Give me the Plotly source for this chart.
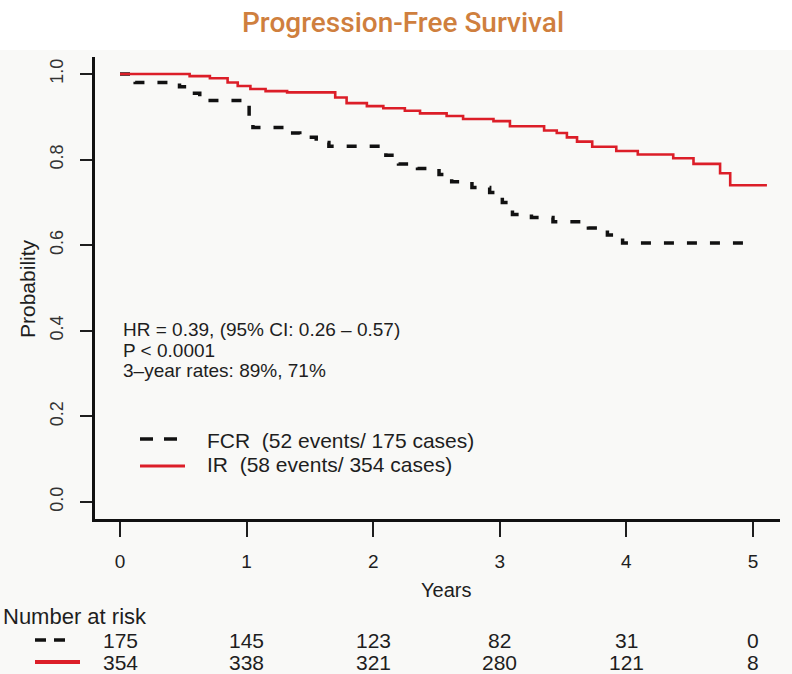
import plotly.graph_objects as go

# Kaplan-Meier step estimates (years, survival probability)
ir_times = [0.0, 0.55, 0.71, 0.85, 0.93, 1.03, 1.15, 1.32, 1.70, 1.79, 1.95, 2.08, 2.25,
            2.37, 2.58, 2.71, 2.95, 3.08, 3.35, 3.45, 3.53, 3.61, 3.73, 3.92, 4.09,
            4.37, 4.53, 4.74, 4.82, 5.11]
ir_surv = [1.000, 0.995, 0.990, 0.980, 0.972, 0.965, 0.960, 0.957, 0.945, 0.932, 0.925,
           0.920, 0.914, 0.908, 0.902, 0.895, 0.890, 0.878, 0.868, 0.862, 0.852, 0.842,
           0.830, 0.820, 0.812, 0.803, 0.790, 0.768, 0.740, 0.740]

fcr_times = [0.0, 0.12, 0.47, 0.55, 0.63, 1.02, 1.05, 1.30, 1.42, 1.55, 1.65, 2.10, 2.20,
             2.35, 2.52, 2.62, 2.78, 2.92, 3.02, 3.10, 3.25, 3.42, 3.70, 3.85, 3.97, 4.95]
fcr_surv = [1.000, 0.980, 0.970, 0.955, 0.938, 0.900, 0.875, 0.862, 0.852, 0.840, 0.831,
            0.810, 0.790, 0.779, 0.765, 0.748, 0.735, 0.723, 0.700, 0.672, 0.665, 0.655,
            0.640, 0.624, 0.605, 0.605]

# Number-at-risk table
risk_times = [0, 1, 2, 3, 4, 5]
fcr_at_risk = [175, 145, 123, 82, 31, 0]
ir_at_risk = [354, 338, 321, 280, 121, 8]

x_ticks = [0, 1, 2, 3, 4, 5]
y_ticks = [0.0, 0.2, 0.4, 0.6, 0.8, 1.0]
y_tick_text = ["0.0", "0.2", "0.4", "0.6", "0.8", "1.0"]

stats_lines = ["HR = 0.39, (95% CI: 0.26 \u2013 0.57)", "P < 0.0001", "3\u2013year rates: 89%, 71%"]
legend_labels = ["FCR  (52 events/ 175 cases)", "IR  (58 events/ 354 cases)"]

RED = "#dc1e28"
INK = "#1e1e1e"
FONT = "Liberation Sans, Arial, sans-serif"

W, H = 792, 674
ML, MR, MT, MB = 95, 12, 57, 155
PW, PH = W - ML - MR, H - MT - MB


def px(xpix):
    return (xpix - ML) / PW


def py(ypix):
    return (H - MB - ypix) / PH


fig = go.Figure()

fig.add_trace(go.Scatter(
    x=fcr_times, y=fcr_surv, mode="lines", line_shape="hv",
    line=dict(color="#111111", width=3.5, dash="10px,13px"), showlegend=False,
    hoverinfo="skip"))
fig.add_trace(go.Scatter(
    x=ir_times, y=ir_surv, mode="lines", line_shape="hv",
    line=dict(color=RED, width=2.6), showlegend=False, hoverinfo="skip"))

shapes = [
    # faint background below the heading
    dict(type="rect", xref="paper", yref="paper", x0=px(0), x1=px(W), y0=py(H), y1=py(50),
         fillcolor="#f9f9f7", line=dict(width=0), layer="below"),
    # in-plot legend keys
    dict(type="line", xref="paper", yref="paper", x0=px(140), x1=px(153), y0=py(439), y1=py(439),
         line=dict(color="#111111", width=3.5)),
    dict(type="line", xref="paper", yref="paper", x0=px(164), x1=px(177), y0=py(439), y1=py(439),
         line=dict(color="#111111", width=3.5)),
    dict(type="line", xref="paper", yref="paper", x0=px(140), x1=px(185), y0=py(466), y1=py(466),
         line=dict(color=RED, width=3)),
    # risk-table keys
    dict(type="line", xref="paper", yref="paper", x0=px(35), x1=px(46), y0=py(640), y1=py(640),
         line=dict(color="#111111", width=3.5)),
    dict(type="line", xref="paper", yref="paper", x0=px(54), x1=px(65), y0=py(640), y1=py(640),
         line=dict(color="#111111", width=3.5)),
    dict(type="line", xref="paper", yref="paper", x0=px(35), x1=px(80), y0=py(662), y1=py(662),
         line=dict(color=RED, width=4)),
]

annotations = []
# heading
annotations.append(dict(text="Progression-Free Survival", xref="paper", yref="paper",
                        x=px(403), y=py(22), xanchor="center", yanchor="middle", showarrow=False,
                        font=dict(family="Roboto, sans-serif", size=28, weight=500,
                                  color="#cf7f3e")))
# axis titles
annotations.append(dict(text="Years", xref="paper", yref="paper", x=px(446), y=py(590),
                        xanchor="center", yanchor="middle", showarrow=False,
                        font=dict(family=FONT, size=20, color=INK)))
annotations.append(dict(text="Probability", xref="paper", yref="paper", x=px(27), y=py(289),
                        xanchor="center", yanchor="middle", showarrow=False, textangle=-90,
                        font=dict(family=FONT, size=21, color=INK)))
# statistics block
for line, ypix in zip(stats_lines, [330, 350, 370]):
    annotations.append(dict(text=line, xref="paper", yref="paper", x=px(121), y=py(ypix),
                            xanchor="left", yanchor="middle", showarrow=False,
                            font=dict(family=FONT, size=19, color=INK)))
# legend labels
for lab, ypix in zip(legend_labels, [440, 464]):
    annotations.append(dict(text=lab, xref="paper", yref="paper", x=px(205), y=py(ypix),
                            xanchor="left", yanchor="middle", showarrow=False,
                            font=dict(family=FONT, size=21, color=INK)))
# number-at-risk table
annotations.append(dict(text="Number at risk", xref="paper", yref="paper", x=px(1), y=py(616),
                        xanchor="left", yanchor="middle", showarrow=False,
                        font=dict(family=FONT, size=22, color=INK)))
for row, ypix in zip([fcr_at_risk, ir_at_risk], [640, 662]):
    for t, n in zip(risk_times, row):
        annotations.append(dict(text=str(n), xref="x", yref="paper", x=t, y=py(ypix),
                                xanchor="center", yanchor="middle", showarrow=False,
                                font=dict(family=FONT, size=21, color=INK)))

x_left = (ML - 120) / 126.6
x_right = (ML + PW - 120) / 126.6
y_bottom = (502 - (H - MB)) / 428.0
y_top = (502 - MT) / 428.0

fig.update_layout(
    width=W, height=H,
    margin=dict(l=ML, r=MR, t=MT, b=MB, pad=0),
    paper_bgcolor="white", plot_bgcolor="rgba(0,0,0,0)",
    shapes=shapes, annotations=annotations,
    xaxis=dict(range=[x_left, x_right], tickvals=x_ticks, ticks="outside", ticklen=15,
               tickwidth=1.6, tickcolor=INK, showline=True, linewidth=2.6, linecolor="#111111",
               showgrid=False, zeroline=False, ticklabelstandoff=8,
               tickfont=dict(family=FONT, size=19, color=INK)),
    yaxis=dict(range=[y_bottom, y_top], tickvals=y_ticks, ticktext=y_tick_text,
               ticks="outside", ticklen=12, tickwidth=1.6, tickcolor=INK, showline=True,
               linewidth=2.6, linecolor="#111111", showgrid=False, zeroline=False,
               tickangle=-90, ticklabelstandoff=10,
               tickfont=dict(family=FONT, size=18, color="#333333")),
)

fig.write_html("out.html")
